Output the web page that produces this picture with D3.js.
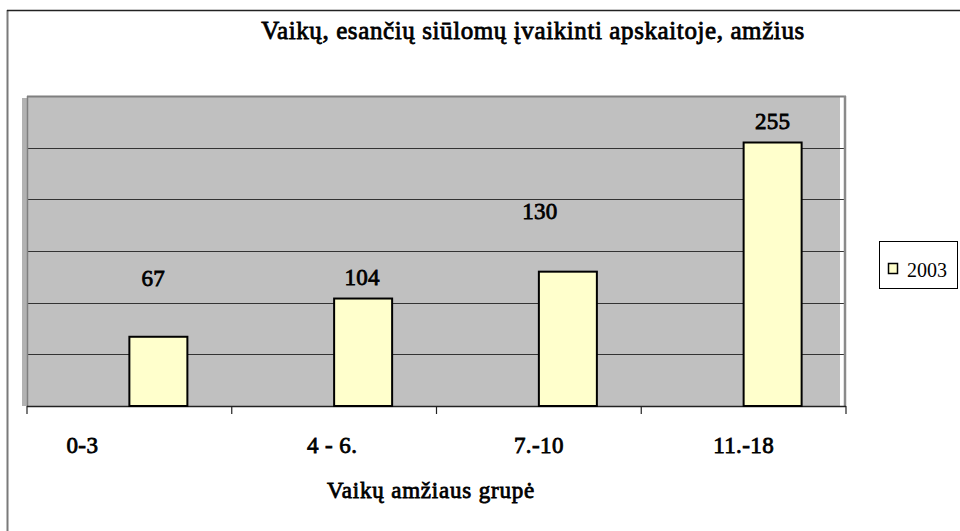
<!DOCTYPE html>
<html>
<head>
<meta charset="utf-8">
<script src="https://cdn.jsdelivr.net/npm/d3@7"></script>
<style>
  body { margin: 0; background: #fff; }
  /* the serif bold face is missing, so thicken the regular face instead */
  .bold { font-weight: normal; stroke: #000; stroke-width: 0.8px; }
</style>
</head>
<body>
<div id="chart"></div>
<script>
// chart data
var categories = ["0-3", "4 - 6.", "7.-10", "11.-18"];
var values2003 = [67, 104, 130, 255];
var seriesName = "2003";
var yTicks = [0, 50, 100, 150, 200, 250, 300];
var title = "Vaikų, esančių siūlomų įvaikinti apskaitoje, amžius";
var xTitle = "Vaikų amžiaus grupė";

var width = 960, height = 531;
var plot = {left: 27, right: 846, top: 96, bottom: 406};
var serif = "'Liberation Serif', 'Times New Roman', serif";

var svg = d3.select("#chart")
    .append("svg")
    .attr("width", width)
    .attr("height", height)
    .attr("font-family", serif);

// outer frame (left + top edge)
svg.append("line")
    .attr("x1", 7.5).attr("x2", 7.5).attr("y1", 10).attr("y2", height)
    .style("stroke", "#7a7a7a").style("stroke-width", 2);
svg.append("line")
    .attr("x1", 7).attr("x2", width).attr("y1", 10.5).attr("y2", 10.5)
    .style("stroke", "#222").style("stroke-width", 1.5);

var x = d3.scaleBand()
    .domain(categories)
    .range([plot.left, plot.right])
    .padding(0);

var y = d3.scaleLinear()
    .domain([0, 300])
    .range([plot.bottom, plot.top]);

// plot area: gray wall with a lighter side strip
svg.append("rect")
    .attr("x", 22).attr("y", plot.top + 2)
    .attr("width", 5).attr("height", plot.bottom - plot.top - 2)
    .style("fill", "#b2b2b2");
svg.append("rect")
    .attr("x", plot.left).attr("y", plot.top)
    .attr("width", 840 - plot.left).attr("height", plot.bottom - plot.top)
    .style("fill", "#c0c0c0");

// gridlines
svg.append("g")
    .selectAll("line")
    .data(yTicks.slice(1, -1))
    .enter()
    .append("line")
    .attr("x1", plot.left).attr("x2", plot.right - 1)
    .attr("y1", d => Math.round(y(d)) + 0.5)
    .attr("y2", d => Math.round(y(d)) + 0.5)
    .style("stroke", "#333").style("stroke-width", 1);

// wall borders
svg.append("line")
    .attr("x1", plot.left).attr("x2", plot.right)
    .attr("y1", plot.top + 0.5).attr("y2", plot.top + 0.5)
    .style("stroke", "#7f7f7f").style("stroke-width", 2);
svg.append("line")
    .attr("x1", plot.left + 0.5).attr("x2", plot.left + 0.5)
    .attr("y1", plot.top).attr("y2", plot.bottom)
    .style("stroke", "#7f7f7f").style("stroke-width", 1.5);
svg.append("line")
    .attr("x1", plot.right - 1).attr("x2", plot.right - 1)
    .attr("y1", plot.top).attr("y2", plot.bottom)
    .style("stroke", "#8a8a8a").style("stroke-width", 2.5);

// x axis
var xAxis = svg.append("g")
    .attr("transform", "translate(0," + plot.bottom + ")");
xAxis.append("line")
    .attr("x1", plot.left).attr("x2", plot.right)
    .attr("y1", 0.5).attr("y2", 0.5)
    .style("stroke", "#222").style("stroke-width", 1.5);
xAxis.selectAll(".tick")
    .data(categories.concat(["end"]))
    .enter()
    .append("line")
    .attr("x1", (d, i) => i < categories.length ? x(d) : plot.right)
    .attr("x2", (d, i) => i < categories.length ? x(d) : plot.right)
    .attr("y1", 0).attr("y2", 8)
    .style("stroke", "#222").style("stroke-width", 1.2);

// tick labels (first one sits left of its band in the original)
var tickShift = [-47, -2, 0, 0];
xAxis.selectAll(".lbl")
    .data(categories)
    .enter()
    .append("text")
    .attr("class", "bold")
    .attr("x", (d, i) => x(d) + x.bandwidth() / 2 + tickShift[i])
    .attr("y", 47)
    .attr("text-anchor", "middle")
    .attr("font-size", 23)
    .attr("letter-spacing", 0.4)
    .text(d => d);

// bars: each sits right of its band centre
var barW = 58;
svg.append("g")
    .selectAll("rect")
    .data(values2003)
    .enter()
    .append("rect")
    .attr("x", (d, i) => x(categories[i]) + x.bandwidth() / 2)
    .attr("y", d => y(d))
    .attr("width", barW)
    .attr("height", d => y(0) - y(d))
    .style("fill", "#ffffcc")
    .style("stroke", "#000")
    .style("stroke-width", 2);

// value labels, hand-placed in the original
var labelNudge = [[-5, -37], [-1, 0], [-28, -39], [0, 0]];
svg.append("g")
    .selectAll("text")
    .data(values2003)
    .enter()
    .append("text")
    .attr("class", "bold")
    .attr("x", (d, i) => x(categories[i]) + x.bandwidth() / 2 + barW / 2 + labelNudge[i][0])
    .attr("y", (d, i) => y(d) - 13.5 + labelNudge[i][1])
    .attr("text-anchor", "middle")
    .attr("font-size", 23)
    .attr("letter-spacing", 0.3)
    .text(d => d);

// titles
svg.append("text")
    .attr("class", "bold")
    .attr("x", 533)
    .attr("y", 39)
    .attr("text-anchor", "middle")
    .attr("font-size", 25)
    .attr("letter-spacing", 0.6)
    .text(title);

svg.append("text")
    .attr("class", "bold")
    .attr("x", 431)
    .attr("y", 498)
    .attr("text-anchor", "middle")
    .attr("font-size", 23)
    .attr("letter-spacing", 0.8)
    .text(xTitle);

// legend
var legend = svg.append("g");
legend.append("rect")
    .attr("x", 879.5).attr("y", 241.5)
    .attr("width", 78).attr("height", 47)
    .style("fill", "#fff")
    .style("stroke", "#000").style("stroke-width", 1);
legend.append("rect")
    .attr("x", 888.5).attr("y", 263.5)
    .attr("width", 9).attr("height", 10)
    .style("fill", "#ffffcc")
    .style("stroke", "#000").style("stroke-width", 1.5);
legend.append("text")
    .attr("x", 907)
    .attr("y", 277)
    .attr("font-size", 20)
    .text(seriesName);
</script>
</body>
</html>
